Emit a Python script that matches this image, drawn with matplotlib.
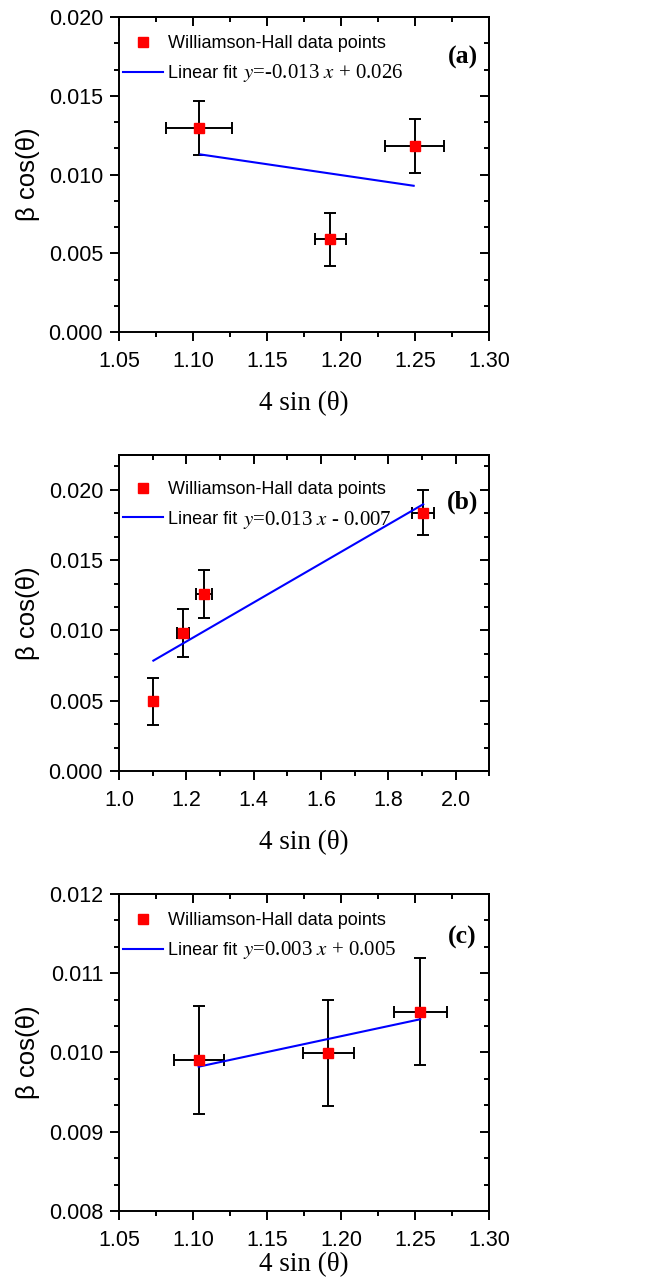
import matplotlib
matplotlib.use("Agg")
import matplotlib.pyplot as plt
from matplotlib.lines import Line2D
from matplotlib.ticker import MultipleLocator, FormatStrFormatter

plt.rcParams["font.family"] = ["Liberation Sans", "DejaVu Sans"]
plt.rcParams["mathtext.fontset"] = "stix"

# panel (a)
x_a = [1.104, 1.1926, 1.2498]
y_a = [0.01297, 0.00589, 0.01183]
xerr_a = [0.022, 0.0105, 0.020]
yerr_a = [0.0017, 0.0017, 0.0017]
fit_x_a = [1.105, 1.249]
fit_y_a = [0.01128, 0.00929]
eq_a = "$y$=-0.013 $x$ + 0.026"

# panel (b)
x_b = [1.102, 1.189, 1.2535, 1.904]
y_b = [0.00495, 0.00982, 0.01258, 0.01838]
xerr_b = [0.0, 0.018, 0.024, 0.032]
yerr_b = [0.0017, 0.00168, 0.0017, 0.00162]
fit_x_b = [1.102, 1.904]
fit_y_b = [0.00785, 0.01898]
eq_b = "$y$=0.013 $x$ - 0.007"

# panel (c)
x_c = [1.1038, 1.1914, 1.2534]
y_c = [0.009901, 0.009989, 0.010516]
xerr_c = [0.017, 0.0172, 0.018]
yerr_c = [0.00068, 0.00067, 0.00067]
fit_x_c = [1.1038, 1.2534]
fit_y_c = [0.009821, 0.010419]
eq_c = "$y$=0.003 $x$ + 0.005"

panels = [
    dict(x=x_a, y=y_a, xe=xerr_a, ye=yerr_a, fx=fit_x_a, fy=fit_y_a, eq=eq_a, tag="(a)",
         rect=[0.182, 0.7406, 0.566, 0.246], xlim=(1.05, 1.30), ylim=(0.0, 0.020),
         xmaj=0.05, xmin=0.025, ymaj=0.005, ymin=0.005 / 3, xfmt="%.2f",
         leg_y=0.942, eq_y=0.822, tag_y=0.873, xlpad=14),
    dict(x=x_b, y=y_b, xe=xerr_b, ye=yerr_b, fx=fit_x_b, fy=fit_y_b, eq=eq_b, tag="(b)",
         rect=[0.182, 0.3977, 0.566, 0.247], xlim=(1.0, 2.1), ylim=(0.0, 0.0225),
         xmaj=0.2, xmin=0.1, ymaj=0.005, ymin=0.005 / 3, xfmt="%.1f",
         leg_y=0.917, eq_y=0.794, tag_y=0.851, xlpad=14),
    dict(x=x_c, y=y_c, xe=xerr_c, ye=yerr_c, fx=fit_x_c, fy=fit_y_c, eq=eq_c, tag="(c)",
         rect=[0.182, 0.0539, 0.566, 0.2477], xlim=(1.05, 1.30), ylim=(0.008, 0.012),
         xmaj=0.05, xmin=0.025, ymaj=0.001, ymin=0.001 / 3, xfmt="%.2f",
         leg_y=0.942, eq_y=0.822, tag_y=0.864, xlpad=1),
]

fig = plt.figure(figsize=(6.54, 12.8), dpi=100)

for p in panels:
    ax = fig.add_axes(p["rect"])
    ax.errorbar(p["x"], p["y"], xerr=p["xe"], yerr=p["ye"], fmt="none",
                ecolor="black", elinewidth=1.4, capsize=4, capthick=1.4, zorder=2)
    ax.plot(p["fx"], p["fy"], color="#0000ff", lw=1.5, zorder=3)
    ax.plot(p["x"], p["y"], "s", color="#ff0000", ms=7.5, mec="#ff0000", zorder=4)

    ax.set_xlim(*p["xlim"])
    ax.set_ylim(*p["ylim"])
    ax.xaxis.set_major_locator(MultipleLocator(p["xmaj"]))
    ax.xaxis.set_minor_locator(MultipleLocator(p["xmin"]))
    ax.yaxis.set_major_locator(MultipleLocator(p["ymaj"]))
    ax.yaxis.set_minor_locator(MultipleLocator(p["ymin"]))
    ax.xaxis.set_major_formatter(FormatStrFormatter(p["xfmt"]))
    ax.yaxis.set_major_formatter(FormatStrFormatter("%.3f"))
    ax.tick_params(which="both", direction="out", width=1.4, labelsize=15.5)
    ax.tick_params(which="major", length=6.5)
    ax.tick_params(which="minor", length=3.5)
    ax.tick_params(axis="x", pad=7)
    ax.tick_params(axis="y", pad=5)
    for s in ax.spines.values():
        s.set_linewidth(1.4)

    # mirrored ticks pointing inward on top / right
    top = ax.secondary_xaxis("top")
    top.xaxis.set_major_locator(MultipleLocator(p["xmaj"]))
    top.xaxis.set_minor_locator(MultipleLocator(p["xmin"]))
    top.tick_params(which="both", direction="in", width=1.4, labeltop=False)
    top.tick_params(which="major", length=6.5)
    top.tick_params(which="minor", length=3.5)
    top.spines["top"].set_linewidth(1.4)
    right = ax.secondary_yaxis("right")
    right.yaxis.set_major_locator(MultipleLocator(p["ymaj"]))
    right.yaxis.set_minor_locator(MultipleLocator(p["ymin"]))
    right.tick_params(which="both", direction="in", width=1.4, labelright=False)
    right.tick_params(which="major", length=6.5)
    right.tick_params(which="minor", length=3.5)
    right.spines["right"].set_linewidth(1.4)

    ax.set_ylabel("β cos(θ)", fontsize=18.5, labelpad=6)
    ax.set_xlabel("4 sin (θ)", fontsize=19.5, family=["Liberation Serif", "DejaVu Serif"],
                  labelpad=p["xlpad"])

    handles = [
        Line2D([], [], ls="none", marker="s", color="#ff0000", ms=7.5),
        Line2D([], [], color="#0000ff", lw=1.5),
    ]
    ax.legend(handles, ["Williamson-Hall data points", "Linear fit"],
              loc="upper left", bbox_to_anchor=(0.011, p["leg_y"]), frameon=False,
              borderaxespad=0, borderpad=0, handlelength=2.2, handletextpad=0.3,
              labelspacing=0.7, fontsize=13)
    ax.text(0.335, p["eq_y"], p["eq"], transform=ax.transAxes, fontsize=15,
            va="center", ha="left", family=["Liberation Serif", "DejaVu Serif"])
    ax.text(0.928, p["tag_y"], p["tag"], transform=ax.transAxes, fontsize=18.5,
            fontweight="bold", va="center", ha="center",
            family=["Liberation Serif", "DejaVu Serif"])

fig.savefig("out.png", dpi=100)
